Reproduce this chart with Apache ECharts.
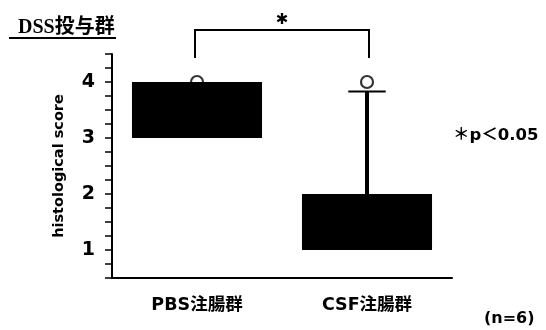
<!DOCTYPE html>
<html>
<head>
<meta charset="utf-8">
<script src="https://cdn.jsdelivr.net/npm/echarts@6/dist/echarts.min.js"></script>
<style>
html,body{margin:0;padding:0;background:#fff;}
#chart{width:546px;height:330px;}
</style>
</head>
<body>
<div id="chart"></div>
<script>
const categories = ['PBS注腸群', 'CSF注腸群'];
const boxMin = [3, 1];
const boxQ1 = [3, 1];
const boxQ3 = [4, 2];
const boxMax = [4, 3.83];
const outliers = [[0, 4], [1, 4]];
const tickLabels = [1, 2, 3, 4];

const latin = '"DejaVu Sans", "Noto Sans CJK JP", sans-serif';

const boxData = categories.map((c, i) => [i, boxMin[i], boxQ1[i], boxQ3[i], boxMax[i]]);

const chart = echarts.init(document.getElementById('chart'), null, {renderer: 'canvas'});
chart.setOption({
  animation: false,
  backgroundColor: '#fff',
  title: {
    text: 'DSS投与群',
    left: 13, top: 13,
    textStyle: {fontFamily: '"Liberation Serif", "Noto Sans CJK JP", serif', fontWeight: 'bold', fontSize: 20, color: '#000'}
  },
  graphic: [
    {type: 'line', shape: {x1: 9, y1: 38, x2: 116, y2: 38}, style: {stroke: '#000', lineWidth: 2}},
    {type: 'text', left: 453, top: 127, style: {text: '＊p＜0.05', fontFamily: latin, fontWeight: 'bold', fontSize: 16.5, fill: '#000'}},
    {type: 'text', left: 484, top: 311, style: {text: '(n=6)', fontFamily: latin, fontWeight: 'bold', fontSize: 16, fill: '#000'}}
  ],
  grid: {left: 112, right: 94, top: 54, bottom: 52},
  xAxis: {
    type: 'category',
    data: categories,
    axisLine: {lineStyle: {color: '#000', width: 2}},
    axisTick: {alignWithLabel: true, length: 4, lineStyle: {color: '#000', width: 2}},
    axisLabel: {color: '#000', fontFamily: latin, fontWeight: 'bold', fontSize: 17.5, margin: 19}
  },
  yAxis: {
    type: 'value',
    min: 0.5, max: 4.5, interval: 0.25,
    name: 'histological score',
    nameLocation: 'middle',
    nameGap: 46,
    nameTextStyle: {color: '#000', fontFamily: latin, fontWeight: 'bold', fontSize: 14.5},
    splitLine: {show: false},
    axisLine: {show: true, lineStyle: {color: '#000', width: 2}},
    axisTick: {show: true, length: 7, lineStyle: {color: '#000', width: 1.5}},
    axisLabel: {
      color: '#000', fontFamily: latin, fontWeight: 'bold', fontSize: 19, margin: 17,
      formatter: v => tickLabels.indexOf(v) >= 0 ? String(v) : ''
    }
  },
  series: [
    {
      type: 'scatter',
      data: outliers,
      symbol: 'circle',
      symbolSize: 12,
      z: 2,
      itemStyle: {color: '#fff', borderColor: '#000', borderWidth: 2.2}
    },
    {
      type: 'custom',
      z: 3,
      data: boxData,
      encode: {x: 0, y: [1, 2, 3, 4]},
      renderItem: function (params, api) {
        const x = api.value(0);
        const q1 = api.coord([x, api.value(2)]);
        const q3 = api.coord([x, api.value(3)]);
        const mx = api.coord([x, api.value(4)]);
        const bw = api.size([1, 0])[0] * 0.765;
        const cw = api.size([1, 0])[0] * 0.22;
        const children = [{
          type: 'rect',
          shape: {x: q3[0] - bw / 2, y: q3[1], width: bw, height: q1[1] - q3[1]},
          style: {fill: '#000'}
        }];
        if (api.value(4) > api.value(3)) {
          children.push({type: 'line', shape: {x1: q3[0], y1: q3[1], x2: mx[0], y2: mx[1]}, style: {stroke: '#000', lineWidth: 4}});
          children.push({type: 'line', shape: {x1: mx[0] - cw / 2, y1: mx[1], x2: mx[0] + cw / 2, y2: mx[1]}, style: {stroke: '#000', lineWidth: 2}});
        }
        return {type: 'group', children: children};
      }
    },
    {
      type: 'custom',
      z: 4,
      clip: false,
      data: [[0, 1]],
      renderItem: function (params, api) {
        const a = api.coord([api.value(0), 4.93]);
        const b = api.coord([api.value(1), 4.93]);
        const a2 = api.coord([api.value(0), 4.43]);
        const s = api.coord([api.value(0), 5.1]);
        const xl = a[0] - 2, xr = b[0] + 2;
        return {
          type: 'group',
          children: [
            {type: 'polyline', shape: {points: [[xl, a2[1]], [xl, a[1]], [xr, a[1]], [xr, a2[1]]]}, style: {stroke: '#000', lineWidth: 2, fill: null}},
            {type: 'text', style: {text: '✱', x: (xl + xr) / 2, y: s[1], align: 'center', verticalAlign: 'middle', fontSize: 15, fontFamily: latin, fontWeight: 'bold', fill: '#000'}}
          ]
        };
      }
    }
  ]
});
</script>
</body>
</html>
